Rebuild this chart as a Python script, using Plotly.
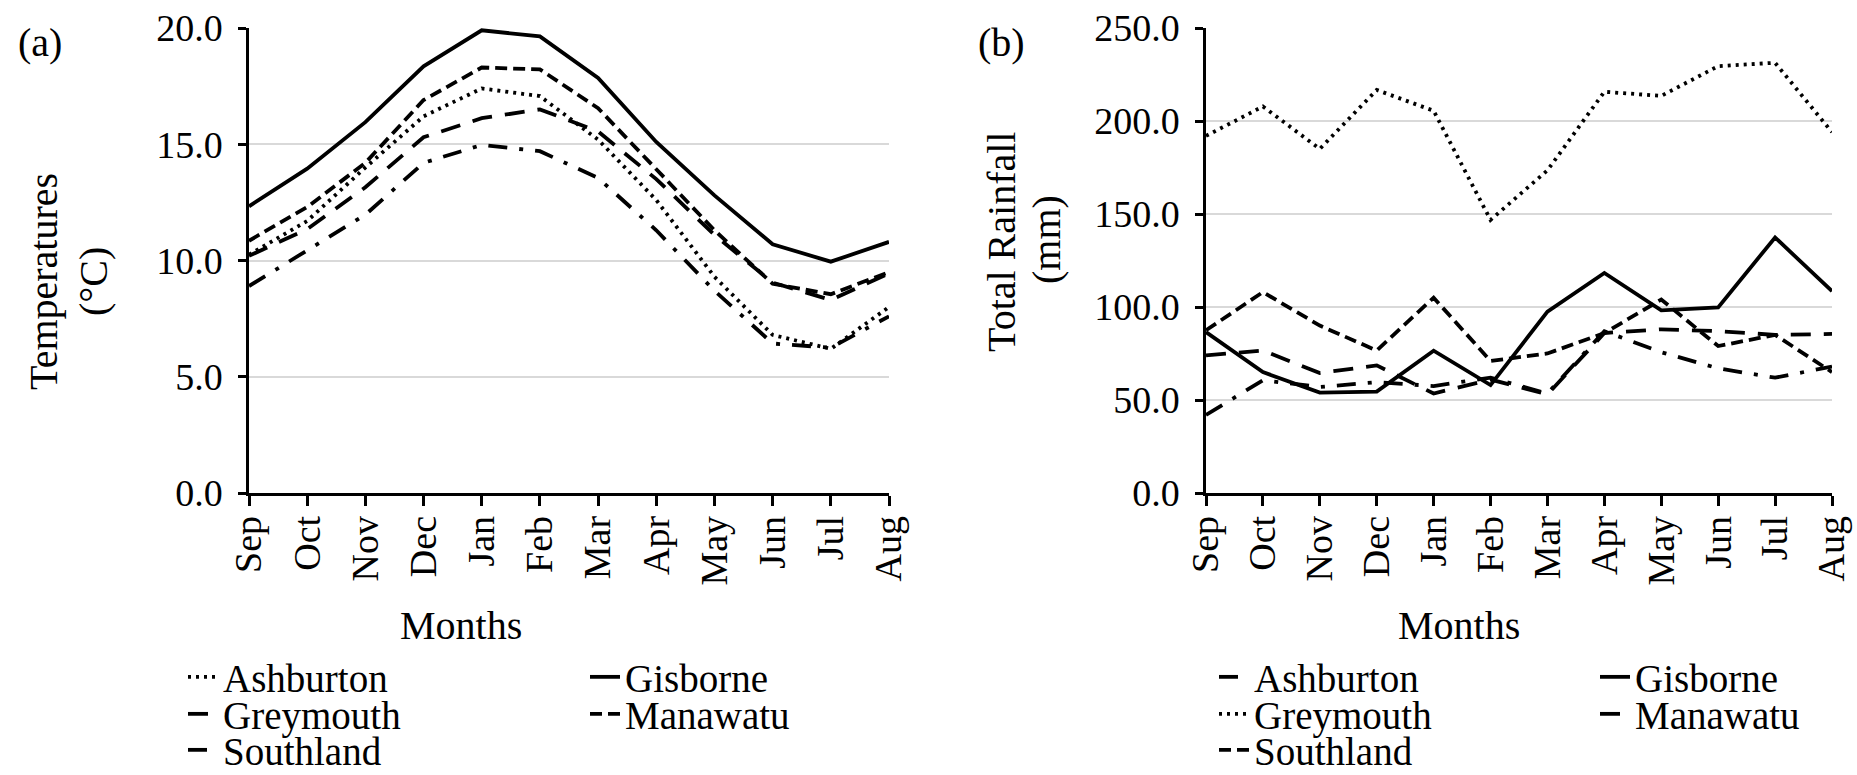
import plotly.graph_objects as go

months = ["Sep", "Oct", "Nov", "Dec", "Jan", "Feb", "Mar", "Apr", "May", "Jun", "Jul", "Aug"]
sites = ["Ashburton", "Gisborne", "Greymouth", "Manawatu", "Southland"]

# (a) mean temperatures (°C)
temp_ashburton = [10.25, 11.7, 14.0, 16.2, 17.4, 17.07, 15.2, 12.6, 9.3, 6.8, 6.2, 8.0]
temp_gisborne = [12.33, 13.95, 15.95, 18.35, 19.9, 19.64, 17.85, 15.1, 12.8, 10.7, 9.95, 10.8]
temp_greymouth = [10.2, 11.35, 13.15, 15.3, 16.12, 16.5, 15.55, 13.5, 11.1, 9.05, 8.3, 9.45]
temp_manawatu = [10.85, 12.3, 14.2, 16.9, 18.3, 18.22, 16.55, 13.9, 11.3, 9.0, 8.55, 9.5]
temp_southland = [8.9, 10.45, 11.97, 14.2, 14.97, 14.7, 13.55, 11.3, 8.7, 6.43, 6.25, 7.6]

# (b) total rainfall (mm)
rain_ashburton = [42.0, 60.6, 57.0, 59.6, 57.5, 62.0, 53.5, 87.0, 75.7, 67.0, 62.0, 68.0]
rain_gisborne = [86.5, 65.0, 54.0, 54.5, 76.5, 58.0, 97.5, 118.3, 98.2, 99.8, 137.4, 108.5]
rain_greymouth = [192.0, 207.8, 185.0, 216.7, 205.5, 146.8, 173.5, 215.7, 213.5, 229.5, 231.3, 194.0]
rain_manawatu = [74.0, 76.6, 64.5, 68.6, 53.5, 61.0, 53.0, 86.0, 88.0, 87.0, 85.0, 85.5]
rain_southland = [87.5, 108.0, 90.0, 76.6, 105.0, 71.0, 75.0, 86.0, 104.0, 79.0, 85.0, 65.0]

temp_ticks = [0, 5, 10, 15, 20]
rain_ticks = [0, 50, 100, 150, 200, 250]

W, H = 1857, 775
FONT = "Liberation Serif"
LW = 3.8

DOT = "3px,5px"
SOLID = "solid"
LONG = "20px,13px"
SHORT = "12px,6px"
DASHDOT = "19px,12px,4px,12px"

temp_series = [temp_ashburton, temp_gisborne, temp_greymouth, temp_manawatu, temp_southland]
temp_dash = [DOT, SOLID, LONG, SHORT, DASHDOT]
rain_series = [rain_ashburton, rain_gisborne, rain_greymouth, rain_manawatu, rain_southland]
rain_dash = [DASHDOT, SOLID, DOT, LONG, SHORT]

# legend placement (pixel positions of text start / row centre)
left_cols = [223, 625]
right_cols = [1254, 1635]
rows = [677, 714, 750]
grid_pos = [(0, 0), (1, 0), (0, 1), (1, 1), (0, 2)]

fig = go.Figure()
legend_layouts = {}
n = 0
for panel, (series, dashes, cols, xa, ya) in enumerate([
        (temp_series, temp_dash, left_cols, "x", "y"),
        (rain_series, rain_dash, right_cols, "x2", "y2")]):
    for i, name in enumerate(sites):
        n += 1
        key = "legend" if n == 1 else f"legend{n}"
        c, r = grid_pos[i]
        fig.add_trace(go.Scatter(
            x=months, y=series[i], mode="lines", name=name,
            line=dict(color="black", width=LW, dash=dashes[i]),
            xaxis=xa, yaxis=ya, legend=key, showlegend=True))
        legend_layouts[key] = dict(
            x=(cols[c] - 40) / W, y=1 - rows[r] / H,
            xanchor="left", yanchor="middle",
            bgcolor="rgba(0,0,0,0)", borderwidth=0,
            font=dict(family=FONT, size=39, color="black"))

y0, y1 = 1 - 493 / H, 1 - 28 / H
axis_common = dict(
    showline=True, linecolor="black", linewidth=2.5,
    ticks="outside", tickcolor="black", tickwidth=2.5,
    tickfont=dict(family=FONT, size=38, color="black"),
    zeroline=False, automargin=False)

fig.update_layout(
    width=W, height=H,
    margin=dict(l=0, r=0, t=0, b=0, autoexpand=False),
    paper_bgcolor="white", plot_bgcolor="white",
    font=dict(family=FONT, color="black"),
    xaxis=dict(domain=[249 / W, 889 / W], type="category", range=[0, 11],
               tickangle=-90, ticklen=10, ticklabelstandoff=-5,
               showgrid=False, anchor="y", **axis_common),
    yaxis=dict(domain=[y0, y1], range=[0, 20], tickvals=temp_ticks,
               tickformat=".1f", ticklen=8, ticklabelstandoff=8, showgrid=True,
               gridcolor="#d9d9d9", gridwidth=2, anchor="x", **axis_common),
    xaxis2=dict(domain=[1206 / W, 1832 / W], type="category", range=[0, 11],
                tickangle=-90, ticklen=10, ticklabelstandoff=-5,
                showgrid=False, anchor="y2", **axis_common),
    yaxis2=dict(domain=[y0, y1], range=[0, 250], tickvals=rain_ticks,
                tickformat=".1f", ticklen=8, ticklabelstandoff=8, showgrid=True,
                gridcolor="#d9d9d9", gridwidth=2, anchor="x2", **axis_common),
    **legend_layouts,
)

ann_font = dict(family=FONT, size=40, color="black")
annotations = [
    dict(text="(a)", x=40 / W, y=1 - 43 / H),
    dict(text="(b)", x=1001 / W, y=1 - 43 / H),
    dict(text="Temperatures", x=43 / W, y=1 - 282 / H, textangle=-90),
    dict(text="(°C)", x=93 / W, y=1 - 282 / H, textangle=-90),
    dict(text="Total Rainfall", x=1001 / W, y=1 - 242 / H, textangle=-90),
    dict(text="(mm)", x=1046 / W, y=1 - 240 / H, textangle=-90),
    dict(text="Months", x=461 / W, y=1 - 625 / H),
    dict(text="Months", x=1459 / W, y=1 - 625 / H),
]
for a in annotations:
    fig.add_annotation(xref="paper", yref="paper", showarrow=False,
                       xanchor="center", yanchor="middle", font=ann_font, **a)

fig.write_html("out.html")
